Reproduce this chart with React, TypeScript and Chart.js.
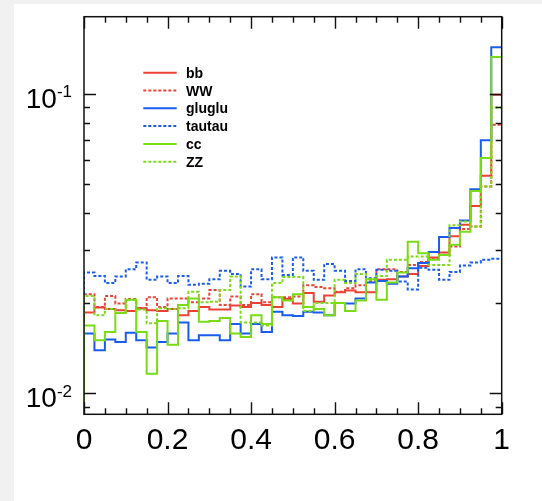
import React, { useEffect, useRef } from 'react';
import { Chart, registerables } from 'chart.js';

Chart.register(...registerables);

// ---- data (40 bins on [0,1]) ----
const nBins = 40;
const xMin = 0;
const xMax = 1;
const yMin = 0.00849;
const yMax = 0.181;

const seriesNames = ['bb', 'WW', 'gluglu', 'tautau', 'cc', 'ZZ'];

const bb = [0.0186, 0.0193, 0.0191, 0.0189, 0.0188, 0.0192, 0.0189, 0.0188, 0.0191, 0.0182,
  0.0188, 0.0194, 0.0190, 0.0190, 0.0196, 0.0194, 0.0200, 0.0197, 0.0194, 0.0206,
  0.0199, 0.0216, 0.0202, 0.0212, 0.0217, 0.0220, 0.0217, 0.0217, 0.0239, 0.0240,
  0.0245, 0.0250, 0.0266, 0.0284, 0.0295, 0.0334, 0.0365, 0.0422, 0.0532, 0.0992];

const WW = [0.0214, 0.0194, 0.0211, 0.0199, 0.0206, 0.0192, 0.0209, 0.0194, 0.0207, 0.0207,
  0.0201, 0.0207, 0.0221, 0.0197, 0.0210, 0.0197, 0.0214, 0.0201, 0.0209, 0.0209,
  0.0210, 0.0229, 0.0226, 0.0224, 0.0218, 0.0224, 0.0229, 0.0237, 0.0259, 0.0259,
  0.0254, 0.0268, 0.0274, 0.0281, 0.0290, 0.0309, 0.0353, 0.0360, 0.0490, 0.0788];

const gluglu = [0.0158, 0.0139, 0.0151, 0.0148, 0.0159, 0.0150, 0.0142, 0.0148, 0.0158, 0.0172,
  0.0150, 0.0156, 0.0156, 0.0150, 0.0170, 0.0158, 0.0170, 0.0160, 0.0187, 0.0182,
  0.0181, 0.0187, 0.0186, 0.0182, 0.0200, 0.0199, 0.0207, 0.0234, 0.0237, 0.0232,
  0.0245, 0.0261, 0.0272, 0.0296, 0.0332, 0.0356, 0.0377, 0.0480, 0.0699, 0.143];

const tautau = [0.0253, 0.0246, 0.0233, 0.0245, 0.0259, 0.0273, 0.0239, 0.0245, 0.0233, 0.0246,
  0.0230, 0.0232, 0.0240, 0.0256, 0.0250, 0.0227, 0.0259, 0.0240, 0.0284, 0.0248,
  0.0284, 0.0256, 0.0239, 0.0270, 0.0256, 0.0237, 0.0259, 0.0242, 0.0258, 0.0256,
  0.0236, 0.0222, 0.0262, 0.0258, 0.0239, 0.0254, 0.0267, 0.0273, 0.0279, 0.0281];

const cc = [0.0168, 0.0150, 0.0160, 0.0185, 0.0205, 0.0160, 0.0116, 0.0174, 0.0145, 0.0197,
  0.0207, 0.0173, 0.0174, 0.0178, 0.0158, 0.0154, 0.0182, 0.0170, 0.0209, 0.0204,
  0.0214, 0.0194, 0.0191, 0.0182, 0.0200, 0.0188, 0.0204, 0.0240, 0.0205, 0.0234,
  0.0253, 0.0320, 0.0293, 0.0279, 0.0289, 0.0313, 0.0346, 0.0473, 0.0610, 0.1327];

const ZZ = [0.0211, 0.0182, 0.0191, 0.0185, 0.0205, 0.0190, 0.0171, 0.0192, 0.0191, 0.0192,
  0.0218, 0.0201, 0.0202, 0.0221, 0.0245, 0.0172, 0.0172, 0.0168, 0.0233, 0.0244,
  0.0244, 0.0188, 0.0200, 0.0200, 0.0239, 0.0233, 0.0250, 0.0239, 0.0246, 0.0279,
  0.0279, 0.0286, 0.0286, 0.0268, 0.0268, 0.0364, 0.0374, 0.0360, 0.0490, 0.0900];

const seriesValues = [bb, WW, gluglu, tautau, cc, ZZ];

const xTickValues = [0, 0.2, 0.4, 0.6, 0.8, 1];
const xTickLabels = ['0', '0.2', '0.4', '0.6', '0.8', '1'];
const xMinorStep = 0.05;
const yTickValues = [0.01, 0.1];
const yTickExponents = ['-2', '-1'];

// ---- styles ----
const RED = '#ec4236';
const BLUE = '#1a5cf0';
const GREEN = '#7adc16';
const seriesColors = [RED, RED, BLUE, BLUE, GREEN, GREEN];
const seriesDashed = [false, true, false, true, false, true];
const DOT = [3, 2];
const FONT = '"Liberation Sans", Arimo, Arial, Helvetica, sans-serif';

// histogram outline: start on the axis floor, then one point per bin low edge, then the upper edge
function histPoints(values: number[]) {
  const w = (xMax - xMin) / nBins;
  const pts: { x: number; y: number }[] = [{ x: xMin, y: yMin * 0.5 }];
  values.forEach((v, i) => pts.push({ x: xMin + i * w, y: v }));
  pts.push({ x: xMax, y: values[values.length - 1] });
  return pts;
}

const rootFramePlugin = {
  id: 'rootFrame',
  afterDatasetsDraw(chart: any) {
    const { ctx, chartArea } = chart;
    const xs = chart.scales.x;
    const ys = chart.scales.y;
    const { left, right, top, bottom } = chartArea;
    ctx.save();
    ctx.strokeStyle = '#111';
    ctx.lineWidth = 1.5;
    ctx.setLineDash([]);
    ctx.strokeRect(left, top, right - left, bottom - top);

    // x ticks (inward, bottom and top)
    const major = 12;
    const minor = 6;
    ctx.lineWidth = 1.4;
    ctx.beginPath();
    for (let k = 0; k <= Math.round((xMax - xMin) / xMinorStep); k++) {
      const v = xMin + k * xMinorStep;
      const isMajor = xTickValues.some((t) => Math.abs(t - v) < 1e-9);
      const len = isMajor ? major : minor;
      const px = Math.round(xs.getPixelForValue(v)) + 0.5;
      ctx.moveTo(px, bottom);
      ctx.lineTo(px, bottom - len);
      ctx.moveTo(px, top);
      ctx.lineTo(px, top + len);
    }
    // y ticks (inward, left and right)
    const lo = Math.floor(Math.log10(yMin));
    const hi = Math.ceil(Math.log10(yMax));
    for (let e = lo; e <= hi; e++) {
      for (let m = 1; m <= 9; m++) {
        const v = m * Math.pow(10, e);
        if (v < yMin || v > yMax) continue;
        const len = m === 1 ? major : minor;
        const py = Math.round(ys.getPixelForValue(v)) + 0.5;
        ctx.moveTo(left, py);
        ctx.lineTo(left + len, py);
        ctx.moveTo(right, py);
        ctx.lineTo(right - len, py);
      }
    }
    ctx.stroke();

    // x labels
    ctx.fillStyle = '#000';
    ctx.font = `30px ${FONT}`;
    ctx.textAlign = 'center';
    ctx.textBaseline = 'alphabetic';
    xTickValues.forEach((v, i) => {
      ctx.fillText(xTickLabels[i], xs.getPixelForValue(v), bottom + 35);
    });

    // y labels 10^n
    const rightEdge = left - 12;
    yTickValues.forEach((v, i) => {
      const py = ys.getPixelForValue(v);
      ctx.font = `17px ${FONT}`;
      const supW = ctx.measureText(yTickExponents[i]).width;
      ctx.font = `28px ${FONT}`;
      const baseW = ctx.measureText('10').width;
      ctx.textAlign = 'left';
      ctx.fillText('10', rightEdge - supW - baseW, py + 14);
      ctx.font = `17px ${FONT}`;
      ctx.fillText(yTickExponents[i], rightEdge - supW, py + 3.5);
    });

    // legend
    const lx0 = 129.3;
    const lx1 = 162.7;
    const ly0 = 68.7;
    const step = 17.8;
    chart.data.datasets.forEach((ds: any, i: number) => {
      const y = ly0 + i * step;
      ctx.strokeStyle = ds.borderColor;
      ctx.lineWidth = 2;
      ctx.setLineDash(ds.borderDash || []);
      ctx.beginPath();
      ctx.moveTo(lx0, y);
      ctx.lineTo(lx1, y);
      ctx.stroke();
      ctx.setLineDash([]);
      ctx.fillStyle = '#000';
      ctx.font = `bold 14px ${FONT}`;
      ctx.textAlign = 'left';
      ctx.fillText(ds.label, 172, y + 5);
    });
    ctx.restore();
  },
};

export default function App() {
  const ref = useRef<HTMLCanvasElement>(null);
  useEffect(() => {
    if (!ref.current) return;
    const chart = new Chart(ref.current, {
      type: 'line',
      data: {
        datasets: seriesNames.map((name, i) => ({
          label: name,
          data: histPoints(seriesValues[i]),
          borderColor: seriesColors[i],
          borderWidth: 2,
          borderDash: seriesDashed[i] ? DOT : [],
          stepped: 'before' as const,
          pointRadius: 0,
          fill: false,
          order: seriesNames.length - 1 - i,
        })),
      },
      options: {
        animation: false,
        responsive: false,
        maintainAspectRatio: false,
        devicePixelRatio: 1,
        layout: { padding: { left: 70, top: 12.7, right: 40.3, bottom: 86.7 } },
        plugins: { legend: { display: false }, tooltip: { enabled: false } },
        scales: {
          x: { type: 'linear', min: xMin, max: xMax, display: false },
          y: { type: 'logarithmic', min: yMin, max: yMax, display: false },
        },
      },
      plugins: [rootFramePlugin],
    });
    return () => chart.destroy();
  }, []);
  return (
    <div style={{ position: 'absolute', left: 0, top: 0, width: 542, height: 501, background: '#f1f1f1' }}>
      <div style={{ position: 'absolute', left: 14, top: 4, width: 528, height: 497, background: '#ffffff' }}>
        <canvas ref={ref} width={528} height={497} style={{ display: 'block', width: 528, height: 497 }} />
      </div>
    </div>
  );
}
